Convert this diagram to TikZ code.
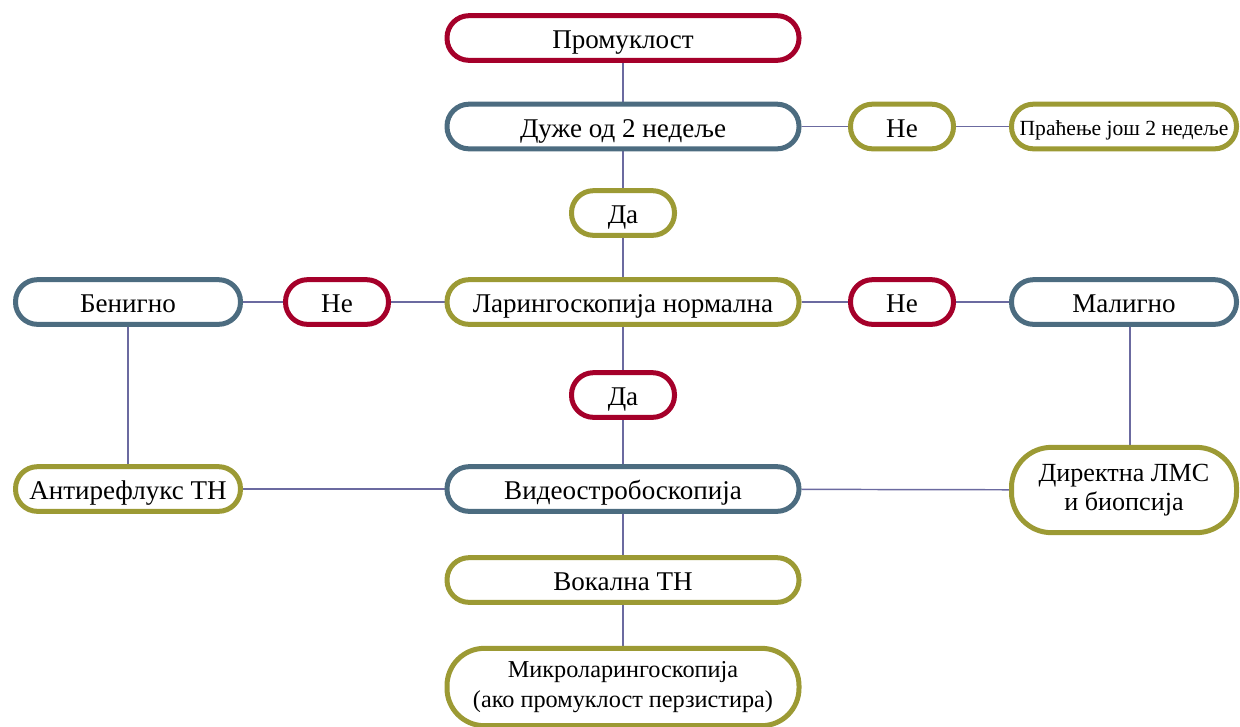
\documentclass[tikz,border=0pt]{standalone}
\usepackage{fontspec}
\setmainfont{Liberation Serif}
\usetikzlibrary{backgrounds}
\definecolor{cred}{HTML}{A5002A}
\definecolor{cblue}{HTML}{4C6C80}
\definecolor{colive}{HTML}{9C9A34}
\definecolor{cline}{HTML}{6B6AA0}
\tikzset{
  box/.style={draw, line width=3.75pt, rounded corners=16.5pt, fill=white, align=center, inner sep=0pt, text height=15.8pt, text depth=0pt, minimum height=33.5pt, font=\fontsize{20.3}{22}\selectfont},
  mainbox/.style={box, minimum width=264pt},
  smallbox/.style={box, minimum width=77.25pt},
  sidebox/.style={box, minimum width=168.75pt},
  twoline/.style={text height=, text depth=},
  conn/.style={draw=cline, line width=1.1pt},
}
\begin{document}
\begin{tikzpicture}[x=0.75pt,y=-0.75pt]
\useasboundingbox (0,0) rectangle (1240,726);
\node[mainbox, draw=cred] (prom) at (623,38) {Промуклост};
\node[mainbox, draw=cblue] (duze) at (623,126.5) {Дуже од 2 недеље};
\node[smallbox, draw=colive] (ne1) at (902,126.5) {Не};
\node[sidebox, draw=colive, font=\fontsize{16.2}{19}\selectfont, text height=13pt] (prac) at (1124,126.5) {Праћење још 2 недеље};
\node[smallbox, draw=colive] (da1) at (623,213) {Да};
\node[mainbox, draw=colive] (lar) at (623,302) {Ларингоскопија нормална};
\node[smallbox, draw=cred] (ne2) at (337,302) {Не};
\node[sidebox, draw=cblue] (ben) at (128,302) {Бенигно};
\node[smallbox, draw=cred] (ne3) at (902,302) {Не};
\node[sidebox, draw=cblue] (mal) at (1124,302) {Малигно};
\node[smallbox, draw=cred] (da2) at (623,395) {Да};
\node[mainbox, draw=cblue] (video) at (623,489) {Видеостробоскопија};
\node[sidebox, draw=colive] (anti) at (128,489) {Антирефлукс ТН};
\node[sidebox, twoline, draw=colive, minimum height=64pt, rounded corners=30pt, font=\fontsize{19.6}{22}\selectfont] (dir) at (1124,490) {Директна ЛМС\\и биопсија};
\node[mainbox, draw=colive] (vok) at (623,580) {Вокална ТН};
\node[mainbox, twoline, draw=colive, minimum height=58pt, rounded corners=28pt, font=\fontsize{18.2}{22.5}\selectfont] (mikro) at (623,687) {Микроларингоскопија\\(ако промуклост перзистира)};
\begin{scope}[on background layer]
\draw[conn] (prom) -- (duze);
\draw[conn] (duze) -- (ne1);
\draw[conn] (ne1) -- (prac);
\draw[conn] (duze) -- (da1);
\draw[conn] (da1) -- (lar);
\draw[conn] (lar) -- (ne2);
\draw[conn] (ne2) -- (ben);
\draw[conn] (lar) -- (ne3);
\draw[conn] (ne3) -- (mal);
\draw[conn] (lar) -- (da2);
\draw[conn] (da2) -- (video);
\draw[conn] (ben) -- (anti);
\draw[conn] (mal.south -| 1130,0) -- (dir.north -| 1130,0);
\draw[conn] (video) -- (anti);
\draw[conn] (video) -- (dir);
\draw[conn] (video) -- (vok);
\draw[conn] (vok) -- (mikro);
\end{scope}
\end{tikzpicture}
\end{document}
